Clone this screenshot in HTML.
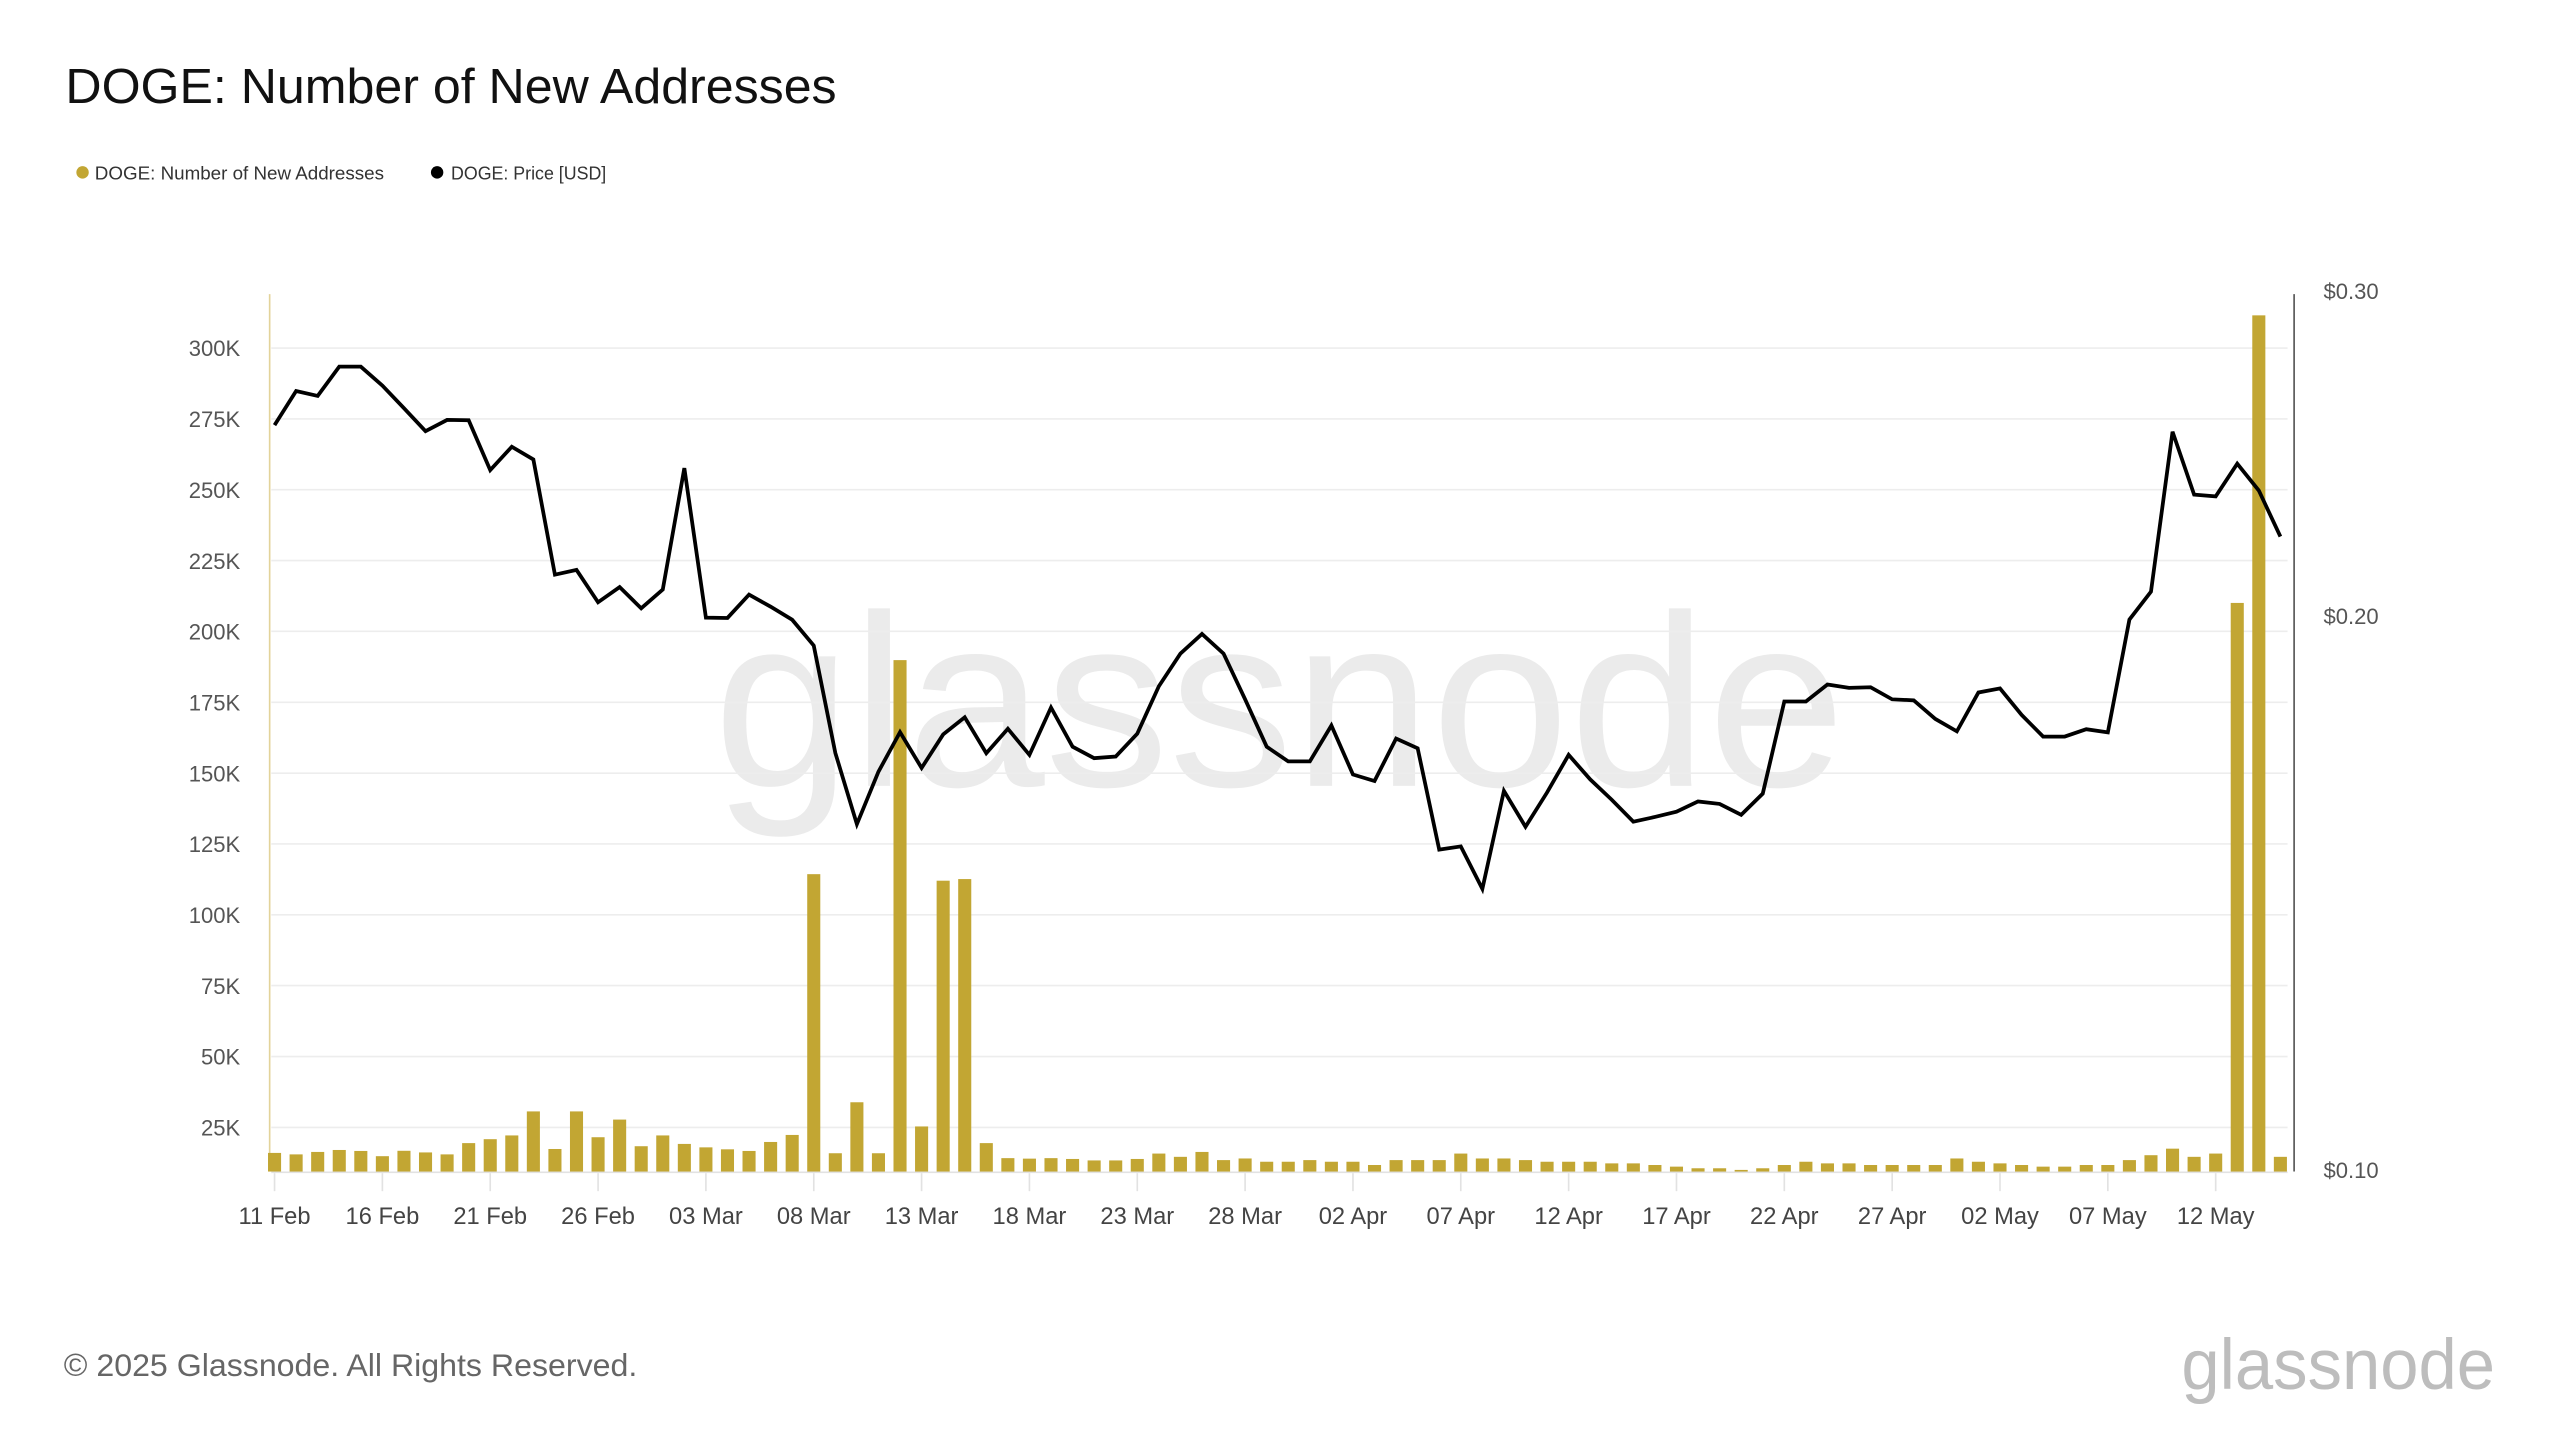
<!DOCTYPE html>
<html><head><meta charset="utf-8"><style>
html,body{margin:0;padding:0;background:#fff;}
svg{display:block;}
text{font-family:"Liberation Sans",sans-serif;}
</style></head><body>
<svg width="2560" height="1440" viewBox="0 0 1566.7 881.3" xmlns="http://www.w3.org/2000/svg">
<rect width="1566.7" height="881.3" fill="#fff"/>
<text x="40" y="63" font-size="30" fill="#111" textLength="472" lengthAdjust="spacingAndGlyphs">DOGE: Number of New Addresses</text>
<circle cx="50.5" cy="105.5" r="3.8" fill="#c2a633"/>
<text x="58" y="110" font-size="11.5" fill="#333" textLength="177" lengthAdjust="spacingAndGlyphs">DOGE: Number of New Addresses</text>
<circle cx="267.5" cy="105.5" r="3.8" fill="#000"/>
<text x="276" y="110" font-size="11.5" fill="#333" textLength="95" lengthAdjust="spacingAndGlyphs">DOGE: Price [USD]</text>

<text x="783" y="481" font-size="150" fill="#ebebeb" text-anchor="middle" textLength="693" lengthAdjust="spacingAndGlyphs">glassnode</text>

<g stroke="#ededed" stroke-width="1">
<line x1="166" x2="1400" y1="213" y2="213"/><line x1="166" x2="1400" y1="256.4" y2="256.4"/>
<line x1="166" x2="1400" y1="299.7" y2="299.7"/><line x1="166" x2="1400" y1="343.1" y2="343.1"/>
<line x1="166" x2="1400" y1="386.4" y2="386.4"/><line x1="166" x2="1400" y1="429.8" y2="429.8"/>
<line x1="166" x2="1400" y1="473.2" y2="473.2"/><line x1="166" x2="1400" y1="516.5" y2="516.5"/>
<line x1="166" x2="1400" y1="559.9" y2="559.9"/><line x1="166" x2="1400" y1="603.2" y2="603.2"/>
<line x1="166" x2="1400" y1="646.6" y2="646.6"/><line x1="166" x2="1400" y1="690" y2="690"/>
<line x1="166" x2="1400" y1="717.5" y2="717.5" stroke="#e2e2e2"/>
</g>
<g stroke="#e2e2e2" stroke-width="1">
<line x1="168" x2="168" y1="718" y2="729"/><line x1="234" x2="234" y1="718" y2="729"/><line x1="300" x2="300" y1="718" y2="729"/><line x1="366" x2="366" y1="718" y2="729"/><line x1="432" x2="432" y1="718" y2="729"/><line x1="498" x2="498" y1="718" y2="729"/><line x1="564" x2="564" y1="718" y2="729"/><line x1="630" x2="630" y1="718" y2="729"/><line x1="696" x2="696" y1="718" y2="729"/><line x1="762" x2="762" y1="718" y2="729"/><line x1="828" x2="828" y1="718" y2="729"/><line x1="894" x2="894" y1="718" y2="729"/><line x1="960" x2="960" y1="718" y2="729"/><line x1="1026" x2="1026" y1="718" y2="729"/><line x1="1092" x2="1092" y1="718" y2="729"/><line x1="1158" x2="1158" y1="718" y2="729"/><line x1="1224" x2="1224" y1="718" y2="729"/><line x1="1290" x2="1290" y1="718" y2="729"/><line x1="1356" x2="1356" y1="718" y2="729"/>
</g>
<line x1="165" x2="165" y1="180" y2="717" stroke="#e3d39a" stroke-width="1"/>
<line x1="1404" x2="1404" y1="180" y2="717" stroke="#555" stroke-width="1"/>

<g font-size="13.5" fill="#555" text-anchor="end">
<text x="147" y="218">300K</text><text x="147" y="261.4">275K</text><text x="147" y="304.7">250K</text><text x="147" y="348.1">225K</text><text x="147" y="391.4">200K</text><text x="147" y="434.8">175K</text><text x="147" y="478.2">150K</text><text x="147" y="521.5">125K</text><text x="147" y="564.9">100K</text><text x="147" y="608.2">75K</text><text x="147" y="651.6">50K</text><text x="147" y="695">25K</text>
</g>
<g font-size="13.5" fill="#555">
<text x="1422" y="183">$0.30</text><text x="1422" y="382">$0.20</text><text x="1422" y="721">$0.10</text>
</g>
<g font-size="14.5" fill="#444" text-anchor="middle">
<text x="168" y="749">11 Feb</text><text x="234" y="749">16 Feb</text><text x="300" y="749">21 Feb</text><text x="366" y="749">26 Feb</text><text x="432" y="749">03 Mar</text><text x="498" y="749">08 Mar</text><text x="564" y="749">13 Mar</text><text x="630" y="749">18 Mar</text><text x="696" y="749">23 Mar</text><text x="762" y="749">28 Mar</text><text x="828" y="749">02 Apr</text><text x="894" y="749">07 Apr</text><text x="960" y="749">12 Apr</text><text x="1026" y="749">17 Apr</text><text x="1092" y="749">22 Apr</text><text x="1158" y="749">27 Apr</text><text x="1224" y="749">02 May</text><text x="1290" y="749">07 May</text><text x="1356" y="749">12 May</text>
</g>

<g fill="#c2a633">
<rect x="164" y="705.6" width="8" height="11.4"/><rect x="177.2" y="706.5" width="8" height="10.5"/><rect x="190.4" y="705" width="8" height="12"/><rect x="203.6" y="703.8" width="8" height="13.2"/><rect x="216.8" y="704.4" width="8" height="12.6"/><rect x="230" y="707.6" width="8" height="9.4"/><rect x="243.2" y="704.3" width="8" height="12.7"/><rect x="256.4" y="705.3" width="8" height="11.7"/><rect x="269.6" y="706.5" width="8" height="10.5"/><rect x="282.8" y="699.6" width="8" height="17.4"/>
<rect x="296" y="697.2" width="8" height="19.8"/><rect x="309.2" y="694.9" width="8" height="22.1"/><rect x="322.4" y="680.2" width="8" height="36.8"/><rect x="335.6" y="703.2" width="8" height="13.8"/><rect x="348.8" y="680.2" width="8" height="36.8"/><rect x="362" y="696" width="8" height="21"/><rect x="375.2" y="685.2" width="8" height="31.8"/><rect x="388.4" y="701.5" width="8" height="15.5"/><rect x="401.6" y="694.9" width="8" height="22.1"/><rect x="414.8" y="700.1" width="8" height="16.9"/>
<rect x="428" y="702.2" width="8" height="14.8"/><rect x="441.2" y="703.4" width="8" height="13.6"/><rect x="454.4" y="704.4" width="8" height="12.6"/><rect x="467.6" y="698.9" width="8" height="18.1"/><rect x="480.8" y="694.6" width="8" height="22.4"/><rect x="494" y="535" width="8" height="182"/><rect x="507.2" y="705.8" width="8" height="11.2"/><rect x="520.4" y="674.6" width="8" height="42.4"/><rect x="533.6" y="705.8" width="8" height="11.2"/><rect x="546.8" y="404" width="8" height="313"/>
<rect x="560" y="689.4" width="8" height="27.6"/><rect x="573.2" y="539" width="8" height="178"/><rect x="586.4" y="538" width="8" height="179"/><rect x="599.6" y="699.6" width="8" height="17.4"/><rect x="612.8" y="708.8" width="8" height="8.2"/><rect x="626" y="709.1" width="8" height="7.9"/><rect x="639.2" y="708.8" width="8" height="8.2"/><rect x="652.4" y="709.3" width="8" height="7.7"/><rect x="665.6" y="710.2" width="8" height="6.8"/><rect x="678.8" y="710.2" width="8" height="6.8"/>
<rect x="692" y="709.3" width="8" height="7.7"/><rect x="705.2" y="706" width="8" height="11"/><rect x="718.4" y="708" width="8" height="9"/><rect x="731.6" y="705" width="8" height="12"/><rect x="744.8" y="710" width="8" height="7"/><rect x="758" y="709" width="8" height="8"/><rect x="771.2" y="711" width="8" height="6"/><rect x="784.4" y="711" width="8" height="6"/><rect x="797.6" y="710" width="8" height="7"/><rect x="810.8" y="711" width="8" height="6"/>
<rect x="824" y="711" width="8" height="6"/><rect x="837.2" y="713" width="8" height="4"/><rect x="850.4" y="710" width="8" height="7"/><rect x="863.6" y="710" width="8" height="7"/><rect x="876.8" y="710" width="8" height="7"/><rect x="890" y="706" width="8" height="11"/><rect x="903.2" y="709" width="8" height="8"/><rect x="916.4" y="709" width="8" height="8"/><rect x="929.6" y="710" width="8" height="7"/><rect x="942.8" y="711" width="8" height="6"/>
<rect x="956" y="711" width="8" height="6"/><rect x="969.2" y="711" width="8" height="6"/><rect x="982.4" y="712" width="8" height="5"/><rect x="995.6" y="712" width="8" height="5"/><rect x="1008.8" y="713" width="8" height="4"/><rect x="1022" y="714" width="8" height="3"/><rect x="1035.2" y="715" width="8" height="2"/><rect x="1048.4" y="715" width="8" height="2"/><rect x="1061.6" y="716" width="8" height="1"/><rect x="1074.8" y="715" width="8" height="2"/>
<rect x="1088" y="713" width="8" height="4"/><rect x="1101.2" y="711" width="8" height="6"/><rect x="1114.4" y="712" width="8" height="5"/><rect x="1127.6" y="712" width="8" height="5"/><rect x="1140.8" y="713" width="8" height="4"/><rect x="1154" y="713" width="8" height="4"/><rect x="1167.2" y="713" width="8" height="4"/><rect x="1180.4" y="713" width="8" height="4"/><rect x="1193.6" y="709" width="8" height="8"/><rect x="1206.8" y="711" width="8" height="6"/>
<rect x="1220" y="712" width="8" height="5"/><rect x="1233.2" y="713" width="8" height="4"/><rect x="1246.4" y="714" width="8" height="3"/><rect x="1259.6" y="714" width="8" height="3"/><rect x="1272.8" y="713" width="8" height="4"/><rect x="1286" y="713" width="8" height="4"/><rect x="1299.2" y="710" width="8" height="7"/><rect x="1312.4" y="707" width="8" height="10"/><rect x="1325.6" y="703" width="8" height="14"/><rect x="1338.8" y="708" width="8" height="9"/>
<rect x="1352" y="706" width="8" height="11"/><rect x="1365.2" y="369" width="8" height="348"/><rect x="1378.4" y="193" width="8" height="524"/><rect x="1391.6" y="708" width="8" height="9"/>
</g>

<polyline fill="none" stroke="#000" stroke-width="2.3" stroke-linejoin="miter" points="
168,260.2 181.2,239.3 194.4,242.3 207.6,224.4 220.8,224.4 234,236 247.2,249.8 260.4,263.9 273.6,257 286.8,257.2
300,287.7 313.2,273.4 326.4,281.2 339.6,351.7 352.8,348.8 366,368.6 379.2,359.3 392.4,372.3 405.6,360.8 418.8,286.5
432,378 445.2,378.2 458.4,363.9 471.6,371.3 484.8,379.3 498,395.1 511.2,460.8 524.4,504.4 537.6,472.3 550.8,448.1
564,470 577.2,449.5 590.4,439 603.6,461 616.8,446 630,462 643.2,433 656.4,457 669.6,464 682.8,463
696,449 709.2,420 722.4,400 735.6,388 748.8,400 762,428 775.2,457 788.4,466 801.6,466 814.8,444
828,474 841.2,478 854.4,452 867.6,458 880.8,520 894,518 907.2,544 920.4,484 933.6,506 946.8,485
960,462 973.2,477 986.4,489.5 999.6,502.9 1012.8,500 1026,496.8 1039.2,490.5 1052.4,492 1065.6,498.7 1078.8,485.7
1092,429.3 1105.2,429.3 1118.4,418.9 1131.6,421 1144.8,420.6 1158,428 1171.2,428.6 1184.4,440 1197.6,447.6 1210.8,423.8
1224,421.3 1237.2,437.5 1250.4,450.8 1263.6,450.8 1276.8,446.3 1290,448.2 1303.2,379.2 1316.4,362.1 1329.6,264.2 1342.8,302.7
1356,303.8 1369.2,283.8 1382.4,300.2 1395.6,328.4"/>

<text x="39" y="842" font-size="19" fill="#666" textLength="351" lengthAdjust="spacingAndGlyphs">© 2025 Glassnode. All Rights Reserved.</text>
<text x="1335" y="850" font-size="44" fill="#bdbdbd" textLength="192" lengthAdjust="spacingAndGlyphs">glassnode</text>
</svg>
</body></html>
